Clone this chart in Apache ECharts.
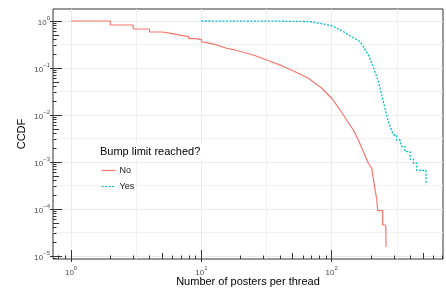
<!DOCTYPE html>
<html><head><meta charset="utf-8">
<script src="https://cdn.jsdelivr.net/npm/echarts@6/dist/echarts.min.js"></script>
<style>html,body{margin:0;padding:0;background:#fff}#c{width:446px;height:291px}</style>
</head><body><div id="c"></div>
<script>
// ---- data ----
const seriesNames = ['No', 'Yes'];
// "No": stepped head, smooth body, stepped tail
const noStepX = [1, 2, 3, 4, 5, 6, 7, 8, 9, 10];
const noStepY = [1, 0.822, 0.676, 0.583, 0.537, 0.496, 0.464, 0.42, 0.40, 0.363];
const noCurveX = [10, 12.7, 15.6, 18.1, 22.4, 26, 31.7, 41.3, 52.3, 66.2, 83.8, 100, 116, 130, 146.5, 160, 175, 191, 203, 208.5, 215, 221];
const noCurveY = [0.363, 0.319, 0.263, 0.242, 0.206, 0.182, 0.148, 0.112, 0.0834, 0.0604, 0.037, 0.0227, 0.0128, 0.00783, 0.0048, 0.00294, 0.00166, 0.000938, 0.00072, 0.00045, 0.000254, 0.000169];
const noTailX = [221, 225.5, 246, 259.6, 261];
const noTailY = [0.000169, 0.000092, 0.0000457, 0.0000436, 0.0000153];
// "Yes": smooth body, stepped tail
const yesCurveX = [10, 40, 57, 68, 81, 100, 123, 146, 165, 175, 191, 208, 228, 242, 256, 272, 297];
const yesCurveY = [1, 0.99, 0.98, 0.966, 0.894, 0.794, 0.592, 0.441, 0.363, 0.284, 0.189, 0.107, 0.0511, 0.0267, 0.0139, 0.0072, 0.00375];
const yesTailX = [297, 315, 334, 344, 365, 399, 423, 449, 529];
const yesTailY = [0.00375, 0.00294, 0.0028, 0.00212, 0.00166, 0.00115, 0.00094, 0.00066, 0.00033];

// ---- axis tick values ----
const xMajor = [1, 10, 100];
const xMid = [5, 50, 500];
const xMinor = [0.8, 0.9, 2, 3, 4, 6, 7, 8, 9, 20, 30, 40, 60, 70, 80, 90, 200, 300, 400, 600, 700];
const xHalf = [3.1623, 31.623, 316.23];
const yMajor = [1, 0.1, 0.01, 0.001, 0.0001, 0.00001];
const yMid = [0.5, 0.05, 0.005, 0.0005, 0.00005];
const yMinor = [0.9, 0.8, 0.7, 0.6, 0.4, 0.3, 0.2,
  0.09, 0.08, 0.07, 0.06, 0.04, 0.03, 0.02,
  0.009, 0.008, 0.007, 0.006, 0.004, 0.003, 0.002,
  0.0009, 0.0008, 0.0007, 0.0006, 0.0004, 0.0003, 0.0002,
  0.00009, 0.00008, 0.00007, 0.00006, 0.00004, 0.00003, 0.00002,
  0.000009];
const yHalf = [0.31623, 0.031623, 0.0031623, 0.00031623, 0.000031623];

const X_MIN = 0.727, X_MAX = 714;
const Y_MIN = 8.63e-6, Y_MAX = 1.8;

const FONT = 'Liberation Sans';
const TICK = { color: '#333', width: 1 };
const GRID = '#ebebeb';
const RED = '#F8766D', CYAN = '#00BFC4';

function powLabel(v) {
  const e = Math.round(Math.log10(v));
  return '{b|10}{s|' + (e < 0 ? '\u2212' + (-e) : e) + '}';
}
const rich = {
  b: { fontSize: 8, color: '#4d4d4d', fontFamily: FONT, padding: [4, 0, 0, 0], verticalAlign: 'bottom' },
  s: { fontSize: 6, color: '#4d4d4d', fontFamily: FONT, verticalAlign: 'top' }
};

function baseAxis(kind, extra) {
  const o = {
    type: 'log', logBase: 10, gridIndex: 0,
    min: kind === 'x' ? X_MIN : Y_MIN,
    max: kind === 'x' ? X_MAX : Y_MAX,
    position: kind === 'x' ? 'bottom' : 'left',
    axisLine: { show: false },
    axisLabel: { show: false },
    axisTick: { show: false },
    splitLine: { show: false },
    minorTick: { show: false },
    minorSplitLine: { show: false }
  };
  return Object.assign(o, extra);
}

function axesFor(kind, major, mid, minor, half) {
  const isX = kind === 'x';
  return [
    baseAxis(kind, {
      name: isX ? 'Number of posters per thread' : 'CCDF',
      nameLocation: 'middle',
      nameMoveOverlap: false,
      nameGap: isX ? 17 : 26,
      nameRotate: isX ? 0 : 90,
      nameTextStyle: { fontSize: 11, color: '#000', fontFamily: FONT },
      axisLabel: { show: true, customValues: major, formatter: powLabel, rich: rich, margin: isX ? 6 : 3 },
      axisTick: { show: true, customValues: major, inside: true, length: 9, lineStyle: TICK },
      splitLine: { show: true, lineStyle: { color: GRID, width: 1 } }
    }),
    baseAxis(kind, { axisTick: { show: true, customValues: major, inside: false, length: 3, lineStyle: TICK } }),
    baseAxis(kind, { axisTick: { show: true, customValues: mid, inside: true, length: 6, lineStyle: TICK } }),
    baseAxis(kind, { axisTick: { show: true, customValues: minor, inside: true, length: 3.5, lineStyle: TICK } }),
    baseAxis(kind, {
      axisTick: { show: false, customValues: half },
      splitLine: { show: true, lineStyle: { color: '#f1f1f1', width: 1 } }
    })
  ];
}

const zip = (xs, ys) => xs.map((x, i) => [x, ys[i]]);
function lineSeries(name, xs, ys, step, color, dash) {
  return {
    name: name, type: 'line', step: step, xAxisIndex: 0, yAxisIndex: 0,
    data: zip(xs, ys), symbol: 'none', showSymbol: false,
    lineStyle: { color: color, width: dash ? 1.3 : 1.2, type: dash ? [2, 1.5] : 'solid' },
    itemStyle: { color: color }
  };
}

const option = {
  animation: false,
  backgroundColor: '#fff',
  grid: {
    left: 53, top: 9, right: 3, bottom: 32, outerBoundsMode: 'none', containLabel: false,
    show: true, borderColor: '#333', borderWidth: 1, backgroundColor: 'transparent'
  },
  title: {
    text: 'Bump limit reached?', left: 97, top: 144,
    backgroundColor: '#fff', padding: [2, 3, 2, 3],
    textStyle: { fontSize: 11, fontWeight: 'normal', color: '#000', fontFamily: FONT }
  },
  legend: {
    data: seriesNames, orient: 'vertical', left: 101, top: 166, padding: 0,
    itemWidth: 14, itemHeight: 10, itemGap: 7,
    itemStyle: { opacity: 0 },
    lineStyle: { width: 1.2 },
    textStyle: { fontSize: 9, color: '#1a1a1a', fontFamily: FONT, padding: [0, 0, 0, -1] }
  },
  xAxis: axesFor('x', xMajor, xMid, xMinor, xHalf),
  yAxis: axesFor('y', yMajor, yMid, yMinor, yHalf),
  series: [
    lineSeries(seriesNames[0], noStepX, noStepY, 'end', RED, false),
    lineSeries(seriesNames[0], noCurveX, noCurveY, false, RED, false),
    lineSeries(seriesNames[0], noTailX, noTailY, 'end', RED, false),
    lineSeries(seriesNames[1], yesCurveX, yesCurveY, false, CYAN, true),
    lineSeries(seriesNames[1], yesTailX, yesTailY, 'end', CYAN, true)
  ]
};
const chart = echarts.init(document.getElementById('c'), null, { renderer: 'canvas' });
chart.setOption(option);
</script>
</body></html>
